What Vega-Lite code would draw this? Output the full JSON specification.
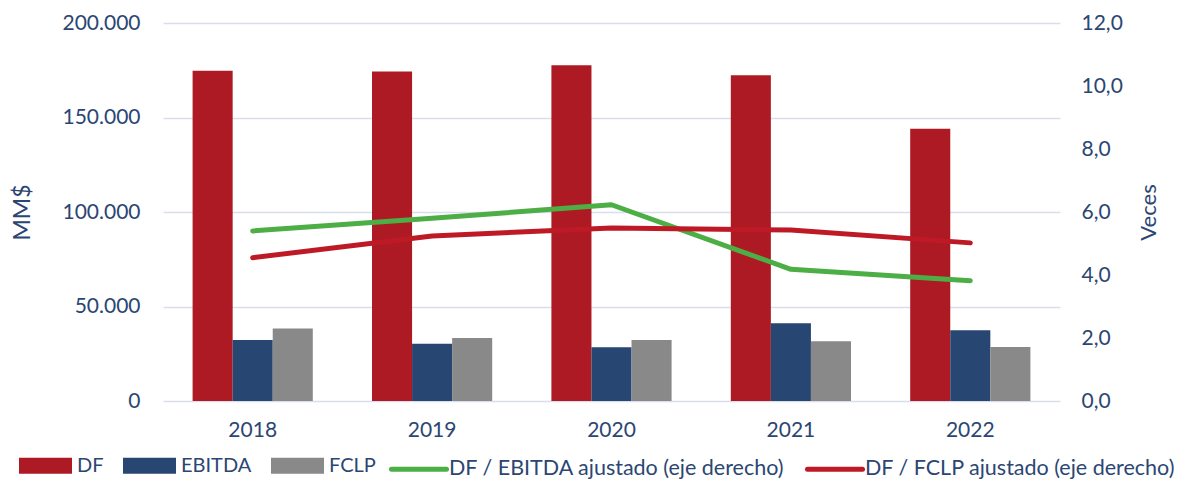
{
  "$schema": "https://vega.github.io/schema/vega-lite/v6.json",
  "width": 897,
  "height": 378,
  "autosize": {"type": "none"},
  "padding": {"left": 163, "top": 23, "right": 130, "bottom": 82},
  "background": "white",
  "config": {
    "locale": {"number": {"decimal": ",", "thousands": ".", "grouping": [3], "currency": ["$", ""]}},
    "font": "Lato",
    "view": {"stroke": null},
    "axis": {
      "labelColor": "#2B4673",
      "titleColor": "#2B4673",
      "labelFont": "Lato",
      "titleFont": "Lato",
      "labelFontSize": 21,
      "titleFontWeight": "normal",
      "ticks": false,
      "domain": false
    },
    "legend": {
      "labelFont": "Lato",
      "labelFontSize": 21.5,
      "labelColor": "#2B4673",
      "labelLimit": 0,
      "title": null,
      "orient": "none",
      "direction": "horizontal",
      "labelOffset": 5,
      "columnPadding": 20
    }
  },
  "datasets": {
    "barras": [
      {"anio": "2018", "serie": "DF", "valor": 174800},
      {"anio": "2018", "serie": "EBITDA", "valor": 32300},
      {"anio": "2018", "serie": "FCLP", "valor": 38300},
      {"anio": "2019", "serie": "DF", "valor": 174400},
      {"anio": "2019", "serie": "EBITDA", "valor": 30300},
      {"anio": "2019", "serie": "FCLP", "valor": 33300},
      {"anio": "2020", "serie": "DF", "valor": 177600},
      {"anio": "2020", "serie": "EBITDA", "valor": 28400},
      {"anio": "2020", "serie": "FCLP", "valor": 32300},
      {"anio": "2021", "serie": "DF", "valor": 172300},
      {"anio": "2021", "serie": "EBITDA", "valor": 41100},
      {"anio": "2021", "serie": "FCLP", "valor": 31600},
      {"anio": "2022", "serie": "DF", "valor": 144100},
      {"anio": "2022", "serie": "EBITDA", "valor": 37400},
      {"anio": "2022", "serie": "FCLP", "valor": 28600}
    ],
    "lineas": [
      {"anio": "2018", "serie": "DF / EBITDA ajustado (eje derecho)", "valor": 5.40},
      {"anio": "2019", "serie": "DF / EBITDA ajustado (eje derecho)", "valor": 5.80},
      {"anio": "2020", "serie": "DF / EBITDA ajustado (eje derecho)", "valor": 6.23},
      {"anio": "2021", "serie": "DF / EBITDA ajustado (eje derecho)", "valor": 4.18},
      {"anio": "2022", "serie": "DF / EBITDA ajustado (eje derecho)", "valor": 3.82},
      {"anio": "2018", "serie": "DF / FCLP ajustado (eje derecho)", "valor": 4.55},
      {"anio": "2019", "serie": "DF / FCLP ajustado (eje derecho)", "valor": 5.24},
      {"anio": "2020", "serie": "DF / FCLP ajustado (eje derecho)", "valor": 5.49},
      {"anio": "2021", "serie": "DF / FCLP ajustado (eje derecho)", "valor": 5.43},
      {"anio": "2022", "serie": "DF / FCLP ajustado (eje derecho)", "valor": 5.02}
    ]
  },
  "layer": [
    {
      "data": {"name": "barras"},
      "mark": {"type": "bar"},
      "encoding": {
        "x": {
          "field": "anio",
          "type": "nominal",
          "scale": {"paddingInner": 0.33, "paddingOuter": 0.165},
          "axis": {"title": null, "labelAngle": 0, "labelPadding": 18, "grid": false}
        },
        "xOffset": {
          "field": "serie",
          "type": "nominal",
          "scale": {"domain": ["DF", "EBITDA", "FCLP"], "paddingInner": 0, "paddingOuter": 0}
        },
        "y": {
          "field": "valor",
          "type": "quantitative",
          "scale": {"domain": [0, 200000], "nice": false},
          "axis": {
            "orient": "left",
            "values": [0, 50000, 100000, 150000, 200000],
            "format": ",.0f",
            "grid": true,
            "gridColor": "#D9DDEE",
            "gridWidth": 1.5,
            "labelPadding": 23,
            "title": "MM$",
            "titleFontSize": 23,
            "titleAngle": -90,
            "titleX": -141,
            "titleY": 189,
            "titleBaseline": "middle"
          }
        },
        "fill": {
          "field": "serie",
          "type": "nominal",
          "scale": {"domain": ["DF", "EBITDA", "FCLP"], "range": ["#AE1A24", "#274672", "#898989"]},
          "legend": {
            "legendX": -144,
            "legendY": 416,
            "labelFontSize": 20,
            "columnPadding": 19,
            "symbolType": "M-1,-0.3H1V0.3H-1Z",
            "symbolSize": 2809,
            "symbolStrokeWidth": 0
          }
        }
      }
    },
    {
      "data": {"name": "lineas"},
      "mark": {"type": "line", "strokeWidth": 5, "strokeCap": "round", "strokeJoin": "round"},
      "encoding": {
        "x": {"field": "anio", "type": "nominal"},
        "y": {
          "field": "valor",
          "type": "quantitative",
          "scale": {"domain": [0, 12], "nice": false},
          "axis": {
            "orient": "right",
            "values": [0, 2, 4, 6, 8, 10, 12],
            "format": ".1f",
            "grid": false,
            "labelPadding": 21,
            "title": "Veces",
            "titleFontSize": 22,
            "titleAngle": -90,
            "titleX": 88,
            "titleY": 189,
            "titleBaseline": "middle"
          }
        },
        "stroke": {
          "field": "serie",
          "type": "nominal",
          "scale": {
            "domain": ["DF / EBITDA ajustado (eje derecho)", "DF / FCLP ajustado (eje derecho)"],
            "range": ["#4CAE45", "#BE1A26"]
          },
          "legend": {
            "legendX": 226,
            "legendY": 416,
            "labelOffset": 0,
            "columnPadding": 12,
            "symbolType": "stroke",
            "symbolSize": 3025,
            "symbolStrokeWidth": 5,
            "encode": {"symbols": {"update": {"strokeWidth": {"value": 5}, "strokeCap": {"value": "round"}}}}
          }
        }
      }
    }
  ],
  "resolve": {"scale": {"y": "independent", "fill": "independent", "stroke": "independent"}}
}
